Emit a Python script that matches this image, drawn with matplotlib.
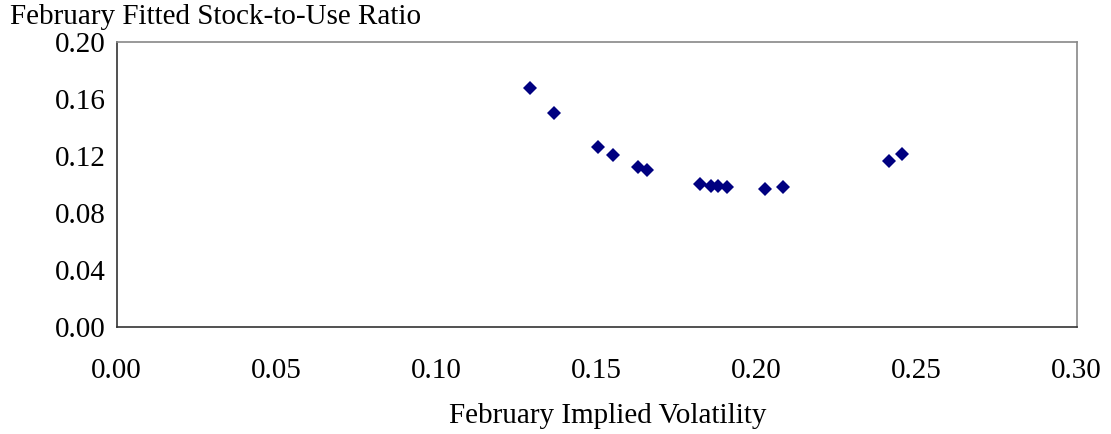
import matplotlib.pyplot as plt

# February implied volatility vs fitted stock-to-use ratio
vol = [0.1292, 0.1368, 0.1503, 0.1550, 0.1630, 0.1656, 0.1824, 0.1858,
       0.1880, 0.1907, 0.2027, 0.2082, 0.2414, 0.2455]
ratio = [0.1677, 0.1504, 0.1267, 0.1211, 0.1127, 0.1104, 0.1006, 0.0994,
         0.0989, 0.0982, 0.0971, 0.0985, 0.1167, 0.1214]

xticks = [0.00, 0.05, 0.10, 0.15, 0.20, 0.25, 0.30]
yticks = [0.00, 0.04, 0.08, 0.12, 0.16, 0.20]

plt.rcParams['font.family'] = ['Liberation Serif', 'DejaVu Serif']
fs = 21

fig = plt.figure(figsize=(11.11, 4.34), dpi=100)
ax = fig.add_axes([0.105, 0.2459, 0.864, 0.6566])

ax.plot(vol, ratio, linestyle='none', marker='D', markersize=7,
        color='#000080', markeredgewidth=0)

ax.set_xlim(0, 0.30)
ax.set_ylim(0, 0.20)
ax.set_xticks(xticks)
ax.set_yticks(yticks)
ax.set_xticklabels(['%.2f' % t for t in xticks])
ax.set_yticklabels(['%.2f' % t for t in yticks])
ax.tick_params(length=0, labelsize=fs)
ax.tick_params(axis='x', pad=22)
ax.tick_params(axis='y', pad=8)

for s in ['left', 'bottom']:
    ax.spines[s].set_color('#333333')
    ax.spines[s].set_linewidth(1.2)
for s in ['top', 'right']:
    ax.spines[s].set_color('#888888')
    ax.spines[s].set_linewidth(1.2)

fig.text(0.547, 0.0253, 'February Implied Volatility', fontsize=fs,
         ha='center', va='baseline')
fig.text(0.009, 0.9445, 'February Fitted Stock-to-Use Ratio', fontsize=fs,
         ha='left', va='baseline')

fig.savefig('out.png', dpi=100)
